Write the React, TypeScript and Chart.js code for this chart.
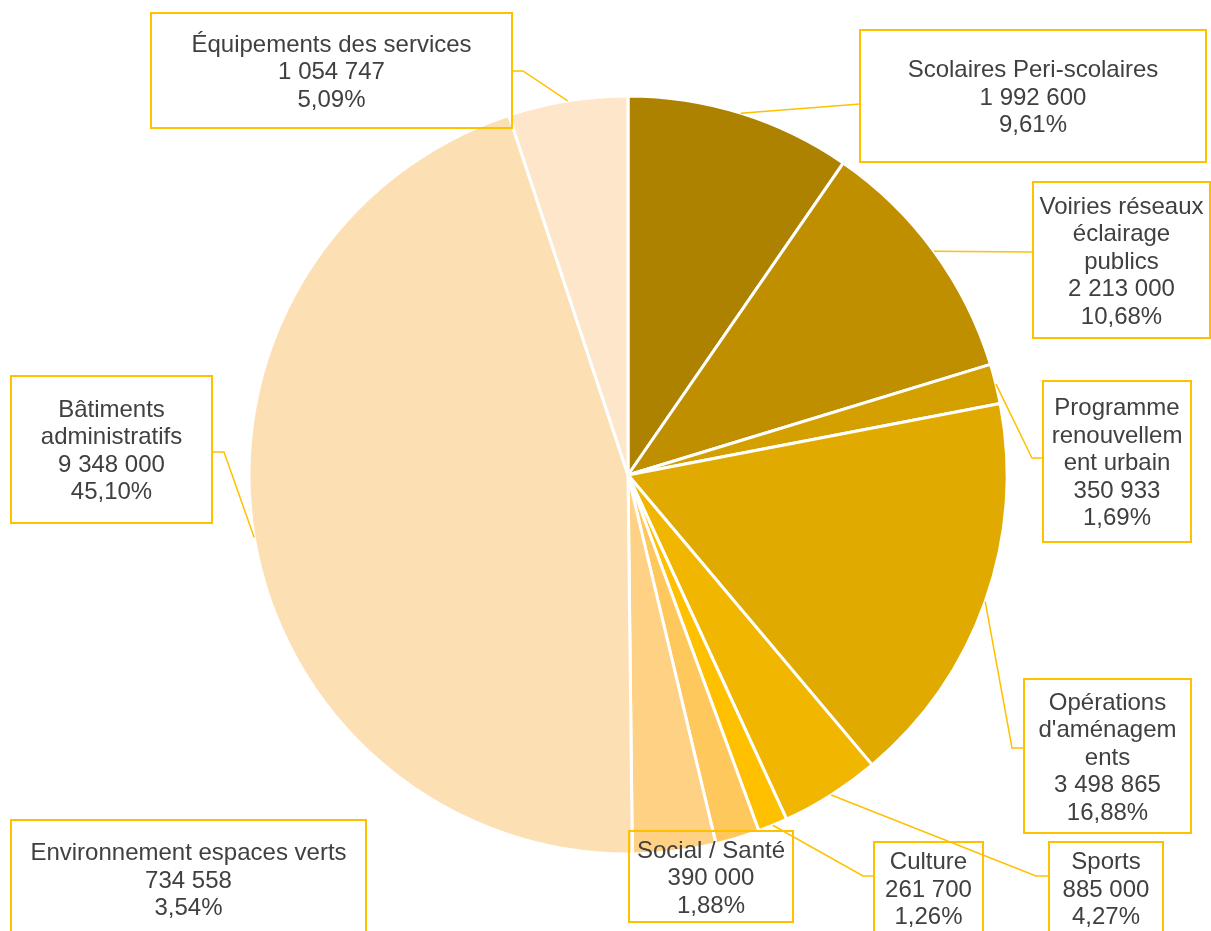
import React, { useEffect, useRef } from "react";
import Chart from "chart.js/auto";

const categories = [
  "Scolaires Peri-scolaires",
  "Voiries réseaux éclairage publics",
  "Programme renouvellement urbain",
  "Opérations d'aménagements",
  "Sports",
  "Culture",
  "Social / Santé",
  "Environnement espaces verts",
  "Bâtiments administratifs",
  "Équipements des services",
];

// wrapped lines as shown in the label boxes
const wrappedNames = [
  ["Scolaires Peri-scolaires"],
  ["Voiries réseaux", "éclairage", "publics"],
  ["Programme", "renouvellem", "ent urbain"],
  ["Opérations", "d'aménagem", "ents"],
  ["Sports"],
  ["Culture"],
  ["Social / Santé"],
  ["Environnement espaces verts"],
  ["Bâtiments", "administratifs"],
  ["Équipements des services"],
];

const values = [1992600, 2213000, 350933, 3498865, 885000, 261700, 390000, 734558, 9348000, 1054747];

const colors = [
  "#AD8200",
  "#C08F00",
  "#D4A000",
  "#E0AA00",
  "#F1B600",
  "#FFC000",
  "#FFC85C",
  "#FFD184",
  "#FDDFB4",
  "#FDE6CA",
];

// label box layout: [x, y, w, h], attach point, optional elbow
type Box = { rect: number[]; attach?: number[]; elbow?: number[] };
const boxes: Box[] = [
  { rect: [860, 30, 346, 132], attach: [860, 104] },
  { rect: [1033, 182, 177, 156], attach: [1033, 252] },
  { rect: [1043, 381, 148, 161], attach: [1043, 458], elbow: [1032, 458] },
  { rect: [1024, 679, 167, 154], attach: [1024, 748], elbow: [1012, 748] },
  { rect: [1049, 842, 114, 92], attach: [1049, 876], elbow: [1036, 876] },
  { rect: [874, 842, 109, 92], attach: [874, 876], elbow: [863, 876] },
  { rect: [629, 831, 164, 91] },
  { rect: [11, 820, 355, 118] },
  { rect: [11, 376, 201, 147], attach: [212, 452], elbow: [224, 452] },
  { rect: [151, 13, 361, 115], attach: [512, 71], elbow: [523, 71] },
];

const total = values.reduce((a, b) => a + b, 0);

function fmtNumber(v: number): string {
  return String(Math.round(v)).replace(/\B(?=(\d{3})+(?!\d))/g, " ");
}
function fmtPct(v: number): string {
  return ((v / total) * 100).toFixed(2).replace(".", ",") + "%";
}

const YELLOW = "#FFC000";
const TEXT = "#404040";
const FONT = "24px 'Liberation Sans', Arial, sans-serif";
const LINE_H = 27.5;

const labelPlugin = {
  id: "boxLabels",
  afterDatasetsDraw(chart: any) {
    const ctx = chart.ctx;
    const meta = chart.getDatasetMeta(0);
    ctx.save();
    meta.data.forEach((el: any, i: number) => {
      const b = boxes[i];
      if (!b.attach) return;
      const p = el.getProps(["x", "y", "startAngle", "endAngle", "outerRadius"], true);
      const mid = (p.startAngle + p.endAngle) / 2;
      const sx = p.x + Math.cos(mid) * p.outerRadius;
      const sy = p.y + Math.sin(mid) * p.outerRadius;
      ctx.beginPath();
      ctx.strokeStyle = YELLOW;
      ctx.lineWidth = 1.5;
      ctx.moveTo(sx, sy);
      if (b.elbow) ctx.lineTo(b.elbow[0], b.elbow[1]);
      ctx.lineTo(b.attach[0], b.attach[1]);
      ctx.stroke();
    });
    boxes.forEach((b, i) => {
      const [x, y, w, h] = b.rect;
      ctx.strokeStyle = YELLOW;
      ctx.lineWidth = 2;
      ctx.strokeRect(x, y, w, h);
      const lines = [...wrappedNames[i], fmtNumber(values[i]), fmtPct(values[i])];
      ctx.fillStyle = TEXT;
      ctx.font = FONT;
      ctx.textAlign = "center";
      ctx.textBaseline = "middle";
      const cx = x + w / 2;
      const cy = y + h / 2;
      const start = cy - ((lines.length - 1) * LINE_H) / 2;
      lines.forEach((t, k) => ctx.fillText(t, cx, start + k * LINE_H + 2));
    });
    ctx.restore();
  },
};

export default function App() {
  const ref = useRef<HTMLCanvasElement>(null);
  useEffect(() => {
    if (!ref.current) return;
    const chart = new Chart(ref.current, {
      type: "pie",
      data: {
        labels: categories,
        datasets: [
          {
            data: values,
            backgroundColor: colors,
            borderColor: "#FFFFFF",
            borderWidth: 3,
          },
        ],
      },
      options: {
        responsive: false,
        animation: false,
        devicePixelRatio: 1,
        radius: 379,
        layout: { padding: { left: 45, right: 0, top: 19, bottom: 0 } },
        plugins: {
          legend: { display: false },
          tooltip: { enabled: false },
        },
      } as any,
      plugins: [labelPlugin],
    });
    return () => chart.destroy();
  }, []);
  return (
    <div style={{ position: "absolute", left: 0, top: 0, width: 1211, height: 931, background: "#fff" }}>
      <canvas ref={ref} width={1211} height={931} style={{ width: 1211, height: 931, display: "block" }} />
    </div>
  );
}
